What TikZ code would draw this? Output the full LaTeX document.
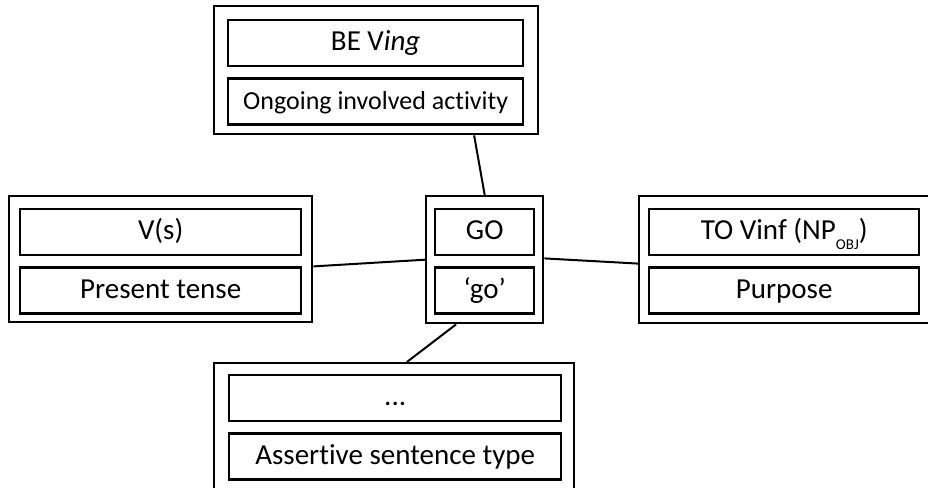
\documentclass[tikz,border=0pt]{standalone}
\usepackage{fontspec}
\setmainfont[Ligatures={NoCommon}]{Carlito}
\usetikzlibrary{calc,positioning}
\tikzset{
  frame/.style={draw,line width=2.4pt,rectangle,inner sep=0pt,anchor=north west},
  cell/.style={draw,line width=2.4pt,rectangle,inner sep=0pt,minimum height=46pt,
    text height=20pt,text depth=5pt,font=\fontsize{29}{34}\selectfont},
  link/.style={line width=2pt}
}
\newcommand{\lowsub}[1]{\raisebox{-10pt}{\fontsize{15}{15}\selectfont #1}}

\begin{document}
\begin{tikzpicture}[x=1pt,y=-1pt]
  \useasboundingbox (0,0) rectangle (928,487);
  \clip (0,0) rectangle (928,487);

  % Top: BE Ving
  \node[frame,minimum width=324pt,minimum height=128pt] (beframe) at (213,5) {};
  \node[cell,anchor=north west,minimum width=295pt] (beving) at (227,19) {BE V\textit{ing}};
  \node[cell,below=10pt of beving,minimum width=295pt,font=\fontsize{26}{30}\selectfont] (ongoing) {Ongoing involved activity};

  % Left: V(s)
  \node[frame,minimum width=303pt,minimum height=126pt] (vsframe) at (8,195) {};
  \node[cell,anchor=north west,minimum width=281pt] (vs) at (19,208) {V(s)};
  \node[cell,below=10pt of vs,minimum width=281pt] (present) {Present tense};

  % Centre: GO
  \node[frame,minimum width=117pt,minimum height=127pt] (goframe) at (425,195) {};
  \node[cell,anchor=north west,minimum width=99pt] (go) at (434,208) {GO};
  \node[cell,below=10pt of go,minimum width=99pt] (gosense) {`go'};

  % Right: TO Vinf
  \node[frame,minimum width=292pt,minimum height=127pt] (toframe) at (638,195) {};
  \node[cell,anchor=north west,minimum width=270pt] (tovinf) at (648,208) {TO Vinf (NP\lowsub{OBJ})};
  \node[cell,below=10pt of tovinf,minimum width=270pt] (purpose) {Purpose};

  % Bottom: assertive
  \node[frame,minimum width=360pt,minimum height=128pt] (dotsframe) at (213,362) {};
  \node[cell,anchor=north west,minimum width=332pt] (dots) at (228,374) {...};
  \node[cell,below=10pt of dots,minimum width=332pt] (assertive) {Assertive sentence type};

  % Links to GO
  \draw[link] ($(beframe.south west)!0.80!(beframe.south east)$) -- ($(goframe.north west)!0.50!(goframe.north east)$);
  \draw[link] ($(vsframe.north east)!0.556!(vsframe.south east)$) -- ($(goframe.north west)!0.50!(goframe.south west)$);
  \draw[link] ($(goframe.north east)!0.49!(goframe.south east)$) -- ($(toframe.north west)!0.53!(toframe.south west)$);
  \draw[link] ($(goframe.south west)!0.26!(goframe.south east)$) -- ($(dotsframe.north west)!0.535!(dotsframe.north east)$);
\end{tikzpicture}
\end{document}
